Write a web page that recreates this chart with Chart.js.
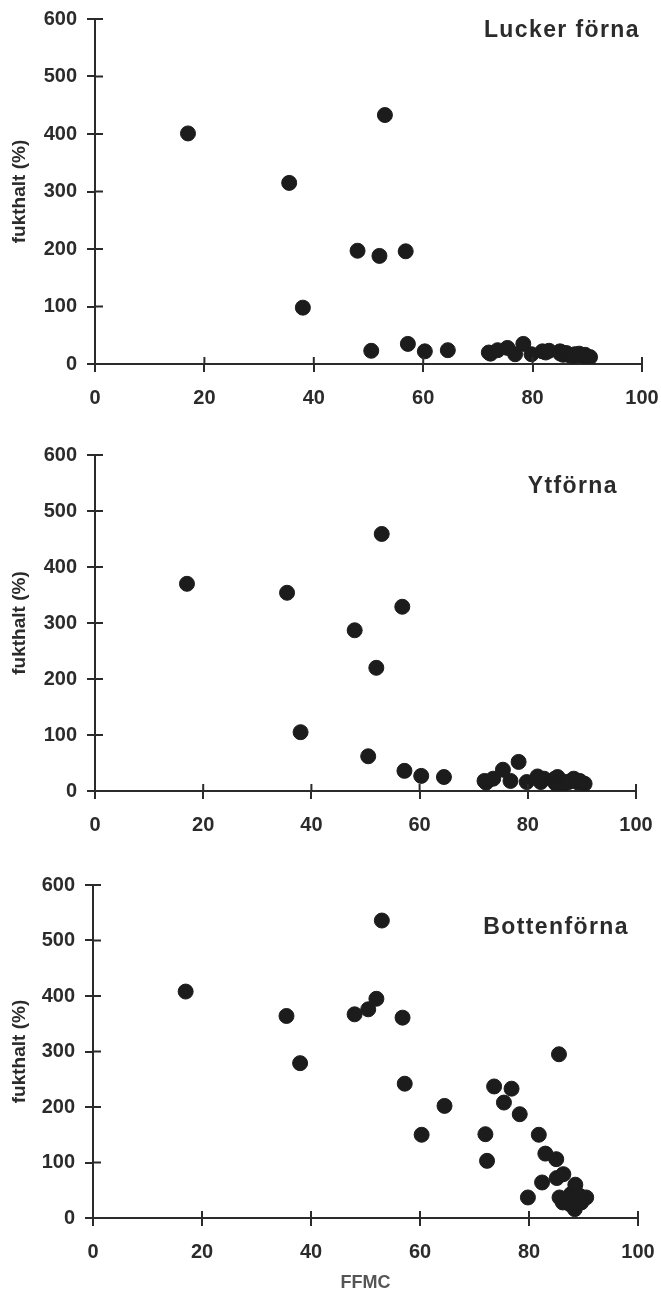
<!DOCTYPE html>
<html>
<head>
<meta charset="utf-8">
<script src="https://cdn.jsdelivr.net/npm/chart.js@4"></script>
<style>
  body { margin: 0; background: #fff; }
  canvas { position: absolute; left: 0; }
</style>
</head>
<body>
<canvas id="c1" width="661" height="420" style="top:0"></canvas>
<canvas id="c2" width="661" height="420" style="top:420px"></canvas>
<canvas id="c3" width="661" height="457" style="top:840px"></canvas>
<script>
// FFMC per sample (same samples in all three layers)
const ffmc = [17, 35.5, 38, 48, 50.5, 52, 53, 56.8, 57.2, 60.3, 64.5,
  72, 72.3, 73.6, 75.4, 76.8, 78.3, 79.8, 81.8, 82.4, 83, 85, 85.1, 85.5,
  86.3, 85.6, 86.2, 86.8, 87.7, 88.4, 88.5, 89.3, 89.6, 90.5, 87.5];

// fukthalt (%) per layer
const luckerForna = [401, 315, 98, 197, 23, 188, 433, 196, 35, 22, 24,
  20, 18, 24, 28, 17, 35, 17, 22, 20, 23, 22, 18, 20,
  17, 16, 19, 15, 17, 15, 18, 14, 16, 12, 14];
const ytForna = [370, 354, 105, 287, 62, 220, 459, 329, 36, 27, 25,
  18, 15, 22, 38, 18, 52, 16, 26, 16, 22, 22, 14, 25,
  16, 12, 18, 14, 17, 20, 22, 15, 18, 13, 16];
const bottenForna = [408, 364, 279, 367, 376, 395, 536, 361, 242, 150, 202,
  151, 103, 237, 208, 233, 187, 37, 150, 64, 116, 106, 72, 295,
  79, 37, 28, 33, 43, 16, 60, 40, 28, 37, 25];

const panelTitles = ["Lucker förna", "Ytförna", "Bottenförna"];
const xTicks = [0, 20, 40, 60, 80, 100];
const yTicks = [0, 100, 200, 300, 400, 500, 600];

const ink = "#2b2b2b";
const font = "'Liberation Sans', Arial, sans-serif";

// inward half of the crossing tick marks, plus the panel label
const crossTicks = {
  id: "crossTicks",
  afterDraw(chart, args, opts) {
    const ctx = chart.ctx;
    const xs = chart.scales.x, ys = chart.scales.y;
    ctx.save();
    ctx.strokeStyle = ink;
    ctx.lineWidth = 2;
    ctx.beginPath();
    xs.ticks.forEach(t => {
      const px = xs.getPixelForValue(t.value);
      ctx.moveTo(px, ys.bottom);
      ctx.lineTo(px, ys.bottom - 7);
    });
    ys.ticks.forEach(t => {
      const py = ys.getPixelForValue(t.value);
      ctx.moveTo(xs.left, py);
      ctx.lineTo(xs.left + 8, py);
    });
    ctx.stroke();
    ctx.fillStyle = ink;
    ctx.font = "bold 23px " + font;
    ctx.letterSpacing = "1.4px";
    ctx.textAlign = "right";
    ctx.textBaseline = "middle";
    ctx.fillText(opts.label, opts.labelX, opts.labelY);
    ctx.restore();
  }
};

function makeChart(id, values, title, box, showX) {
  const points = ffmc.map((f, i) => ({ x: f, y: values[i] }));
  return new Chart(document.getElementById(id), {
    type: "scatter",
    data: {
      datasets: [{
        data: points,
        backgroundColor: "#1c1c1c",
        borderColor: "#1c1c1c",
        pointRadius: 7.5,
        pointHoverRadius: 7.5
      }]
    },
    options: {
      responsive: false,
      animation: false,
      layout: { padding: { top: box.top, right: box.right, left: 0, bottom: 0 } },
      plugins: {
        legend: { display: false },
        tooltip: { enabled: false },
        crossTicks: { label: title, labelX: box.labelX, labelY: box.labelY }
      },
      scales: {
        x: {
          type: "linear",
          min: 0, max: 100,
          afterBuildTicks: s => { s.ticks = xTicks.map(v => ({ value: v })); },
          afterFit: s => { s.height = box.xh; s.paddingLeft = 0; s.paddingRight = 0; },
          grid: { drawOnChartArea: false, color: ink, lineWidth: 2, tickLength: 8 },
          border: { color: ink, width: 2 },
          ticks: { color: ink, padding: 14, maxRotation: 0, font: { family: font, size: 20, weight: "bold" } },
          title: {
            display: showX, text: "FFMC", color: "#555",
            font: { family: font, size: 18, weight: "bold" }, padding: { top: 2, bottom: 3 }
          }
        },
        y: {
          type: "linear",
          min: 0, max: 600,
          afterBuildTicks: s => { s.ticks = yTicks.map(v => ({ value: v })); },
          afterFit: s => { s.width = box.left; s.paddingTop = 0; s.paddingBottom = 0; },
          grid: { drawOnChartArea: false, color: ink, lineWidth: 2, tickLength: 8 },
          border: { color: ink, width: 2 },
          ticks: { color: ink, padding: 10, font: { family: font, size: 20, weight: "bold" } },
          title: {
            display: true, text: "fukthalt (%)", color: ink,
            font: { family: font, size: 19, weight: "bold" }, padding: { top: 8, bottom: 0 }
          }
        }
      }
    },
    plugins: [crossTicks]
  });
}

makeChart("c1", luckerForna, panelTitles[0],
  { top: 19, right: 19, left: 95, xh: 56, labelX: 640, labelY: 31 }, false);
makeChart("c2", ytForna, panelTitles[1],
  { top: 35, right: 25, left: 95, xh: 49, labelX: 618, labelY: 67 }, false);
makeChart("c3", bottenForna, panelTitles[2],
  { top: 45, right: 23, left: 93, xh: 79, labelX: 629, labelY: 88 }, true);
</script>
</body>
</html>
